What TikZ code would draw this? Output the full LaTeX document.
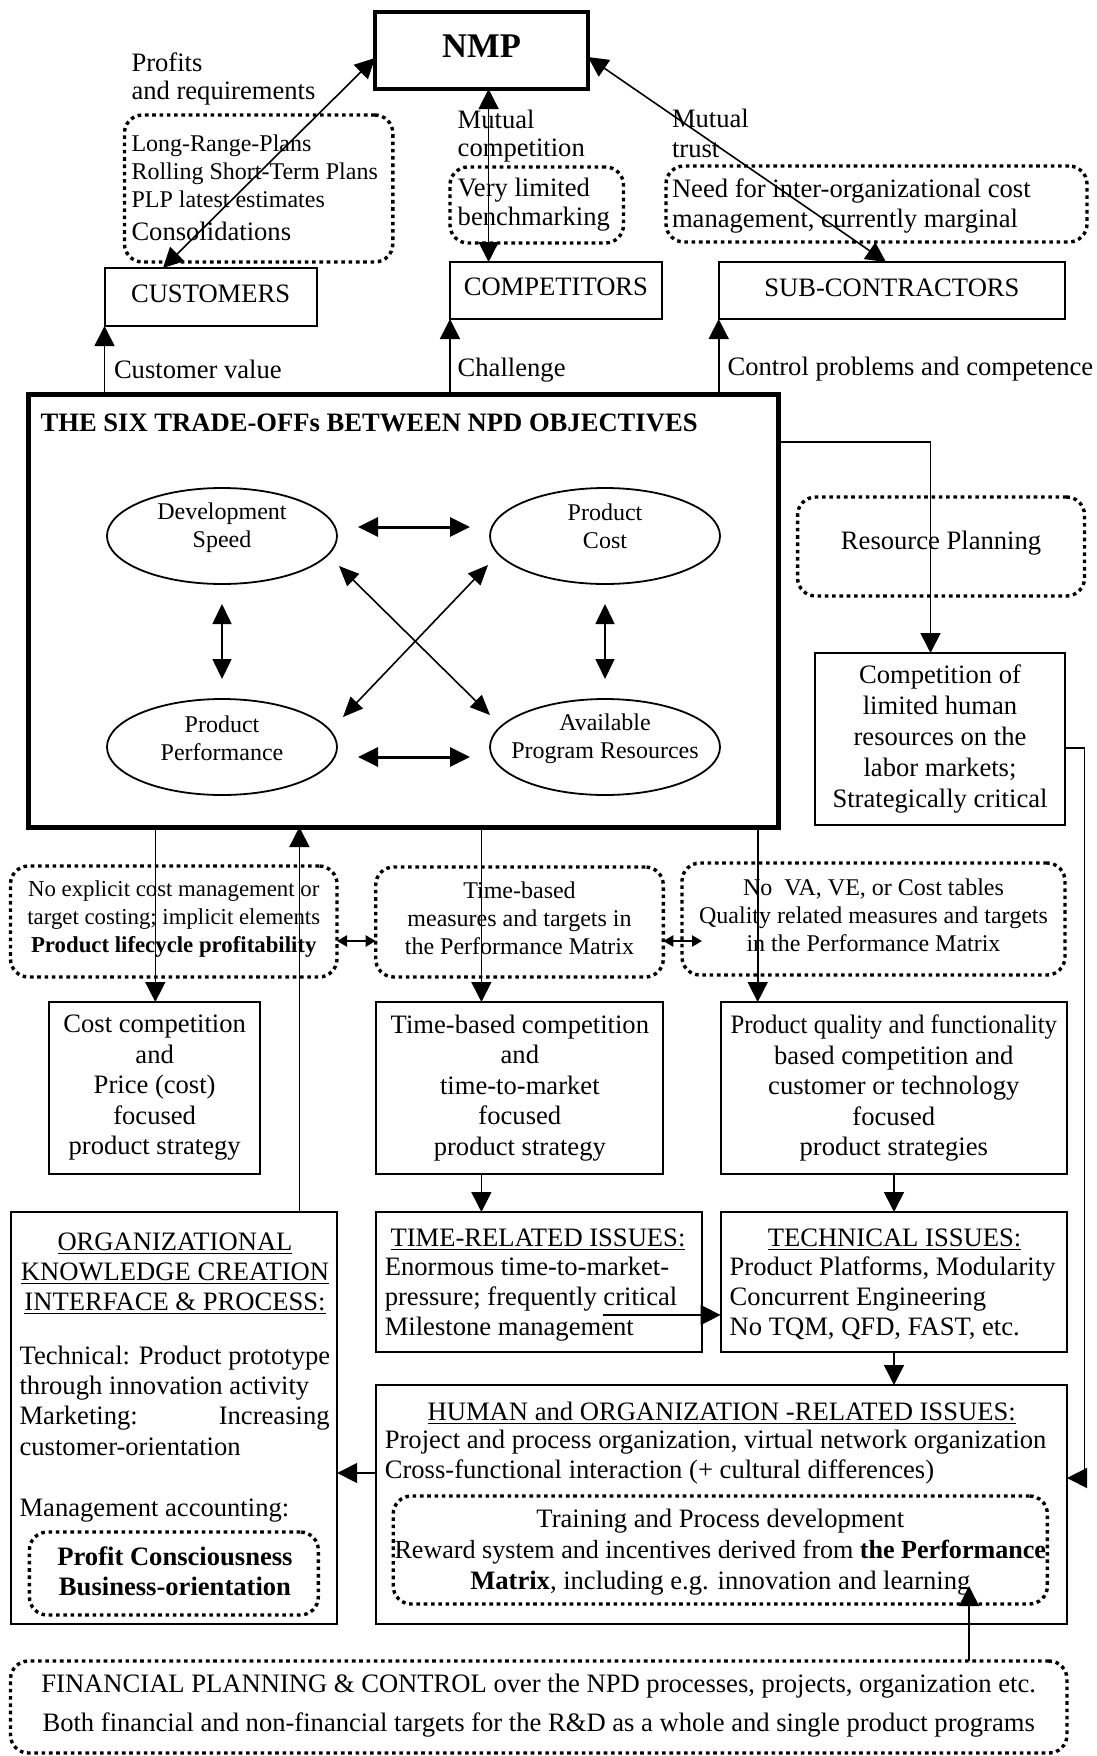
\documentclass[tikz,border=0pt]{standalone}
\usepackage{fontspec}
\setmainfont{Liberation Serif}
\usetikzlibrary{arrows.meta,shapes.geometric,fit}

\begin{document}
\begin{tikzpicture}[x=0.5pt,y=-0.5pt,
  every node/.style={inner sep=0pt, outer sep=0pt},
  f13/.style={font=\fontsize{13.3}{15.3}\selectfont},
  f12/.style={font=\fontsize{12}{14}\selectfont},
  box/.style={draw, line width=1pt},
  heavybox/.style={draw, line width=2pt},
  dotbox/.style={draw, line width=1.7pt, dash pattern=on 1.8pt off 1.85pt, rounded corners=9pt},
  oval/.style={draw, ellipse, line width=0.9pt, minimum width=115pt, minimum height=48pt},
  wire/.style={line width=0.8pt},
  head/.style={wire, -{Triangle[length=10pt,width=10pt]}},
  heads/.style={wire, {Triangle[length=10pt,width=10pt]}-{Triangle[length=10pt,width=10pt]}},
  ohz/.style={line width=1.5pt, {Triangle[length=10pt,width=9.5pt]}-{Triangle[length=10pt,width=9.5pt]}, shorten <=10.5pt, shorten >=10pt},
  ovt/.style={wire, {Triangle[length=10pt,width=9.5pt]}-{Triangle[length=10pt,width=9.5pt]}, shorten <=10pt, shorten >=10pt},
  odg/.style={wire, {Triangle[length=10pt,width=8.5pt]}-{Triangle[length=10pt,width=8.5pt]}},
  mini/.style={line width=1.2pt, {Triangle[length=5pt,width=5.5pt]}-{Triangle[length=5pt,width=5.5pt]}},
]
\useasboundingbox (0,0) rectangle (1097,1756);

% ---------------- top tier: NMP and its partners
\node[heavybox, fit={(375,12) (588,89)}] (nmp) {};
\node[anchor=base, font=\fontsize{17.3}{20}\selectfont\bfseries] (nmpt) at (481.5,57) {NMP};

\node[box, fit={(104.5,268) (316.7,326)}] (cust) {};
\node[f13, anchor=base] (custt) at (210.6,302) {CUSTOMERS};
\node[box, fit={(450,262) (661.8,319)}] (comp) {};
\node[f13, anchor=base] (compt) at (555.9,295) {COMPETITORS};
\node[box, fit={(718.7,262) (1065,319)}] (sub) {};
\node[f13, anchor=base] (subt) at (891.9,296) {SUB-CONTRACTORS};

\node[f13, anchor=base west] (prof1) at (131.5,71) {Profits};
\node[f13, anchor=base west] (prof2) at (131.5,99) {and requirements};
\node[dotbox, fit={(124.5,115) (392.8,262)}] (plans) {};
\node[f12, anchor=base west] (pl1) at (131.5,151) {Long-Range-Plans};
\node[f12, anchor=base west] (pl2) at (131.5,179) {Rolling Short-Term Plans};
\node[f12, anchor=base west] (pl3) at (131.5,207) {PLP latest estimates};
\node[f13, anchor=base west] (pl4) at (131.5,240) {Consolidations};

\node[f13, anchor=base west] (mc1) at (457.7,128) {Mutual};
\node[f13, anchor=base west] (mc2) at (457.7,156) {competition};
\node[dotbox, fit={(450,167) (623.5,243)}] (bench) {};
\node[f13, anchor=base west] (bm1) at (457.7,196) {Very limited};
\node[f13, anchor=base west] (bm2) at (457.7,225) {benchmarking};

\node[f13, anchor=base west] (mt1) at (672,127) {Mutual};
\node[f13, anchor=base west] (mt2) at (672,157) {trust};
\node[dotbox, fit={(666,166) (1087,242)}] (iocm) {};
\node[f13, anchor=base west] (io1) at (672,197) {Need for inter-organizational cost};
\node[f13, anchor=base west] (io2) at (672,227) {management, currently marginal};

\node[f13, anchor=base west] (lbcv) at (114,378) {Customer value};
\node[f13, anchor=base west] (lbch) at (457.7,376) {Challenge};
\node[f13, anchor=base west] (lbcp) at (727.6,375) {Control problems and competence};

\draw[heads] (nmp.west |- 0,58) -- (163,0 |- cust.north);
\draw[heads] (488.6,0 |- nmp.south) -- (488.6,0 |- comp.north);
\draw[heads] (nmp.east |- 0,57) -- (886,0 |- sub.north);

% ---------------- the six trade-offs
\node[draw, line width=2.5pt, fit={(28,394) (778,827)}] (six) {};
\node[anchor=base west, font=\fontsize{13.3}{15.3}\selectfont\bfseries] (sixt) at (40.6,431) {THE SIX TRADE-OFFs BETWEEN NPD OBJECTIVES};

\node[oval] (ds) at (222,536) {};
\node[oval] (pc) at (605,536) {};
\node[oval] (pp) at (222,747) {};
\node[oval] (apr) at (605,747) {};
\node[f12, align=center] (dst) at (222,528) {Development\\Speed};
\node[f12, align=center] (pct) at (605,526) {Product\\Cost};
\node[f12, align=center] (ppt) at (222,738) {Product\\Performance};
\node[f12, align=center] (aprt) at (605,739) {Available\\Program Resources};

\draw[ohz] ([yshift=4.5pt]ds.east) -- ([yshift=4.5pt]pc.west);
\draw[ohz] ([yshift=-5pt]pp.east) -- ([yshift=-5pt]apr.west);
\draw[ovt] (ds.south) -- (pp.north);
\draw[ovt] (pc.south) -- (apr.north);
\draw[odg] ([shift={(117,30)}]ds.center) -- ([shift={(-115,-32)}]apr.center);
\draw[odg] ([shift={(-117,29)}]pc.center) -- ([shift={(121,-30)}]pp.center);

\draw[head] (cust.south west |- six.north) -- (cust.south west);
\draw[head] (comp.south west |- six.north) -- (comp.south west);
\draw[head] (sub.south west |- six.north) -- (sub.south west);

% ---------------- resources branch
\node[dotbox, fit={(797.6,497) (1084.5,596)}] (resp) {};
\node[f13] (respt) at ([yshift=1.75pt]resp.center) {Resource Planning};
\node[box, fit={(815,653) (1065,825)}] (compet) {};
\node[align=center, font=\fontsize{13.3}{15.5}\selectfont] (compett) at (compet.center)
  {Competition of\\limited human\\resources on the\\labor markets;\\Strategically critical};
\draw[head] (six.east |- 0,442) -| (compet.north -| 930.5,0);

% ---------------- measures row
\node[dotbox, fit={(10.5,866) (337,977)}] (pd1) {};
\node[dotbox, fit={(375.7,867) (663.3,977)}] (pd2) {};
\node[dotbox, fit={(682,863) (1065,975)}] (pd3) {};
\node[align=center, font=\fontsize{11.4}{14.2}\selectfont] (pd1t) at ([yshift=1.25pt]pd1.center)
  {No explicit cost management or\\target costing; implicit elements\\\textbf{Product lifecycle profitability}};
\node[align=center, f12] (pd2t) at ([yshift=2pt]pd2.center)
  {Time-based\\measures and targets in\\the Performance Matrix};
\node[align=center, f12] (pd3t) at ([yshift=2pt]pd3.center)
  {No\ \ VA, VE, or Cost tables\\Quality related measures and targets\\in the Performance Matrix};
\coordinate (pj) at (702,941);
\draw[mini] (pd1.east |- 0,941) -- (pd2.west |- 0,941);
\draw[mini] (pd2.east |- 0,941) -- (pj);

% ---------------- strategy row
\node[box, fit={(49,1002) (260.3,1174)}] (costb) {};
\node[box, fit={(376.4,1002) (663.3,1174)}] (timeb) {};
\node[box, fit={(720.6,1002) (1067,1174)}] (qualb) {};
\node[align=center, font=\fontsize{13.3}{15.25}\selectfont] (costbt) at (costb.center)
  {Cost competition\\and\\Price (cost)\\focused\\product strategy};
\node[align=center, font=\fontsize{13.3}{15.25}\selectfont] (timebt) at (timeb.center)
  {Time-based competition\\and\\time-to-market\\focused\\product strategy};
\node[align=center, font=\fontsize{13.3}{15.25}\selectfont] (qualbt) at (qualb.center)
  {\scalebox{0.93}[1]{Product quality and functionality}\\based competition and\\customer or technology\\focused\\product strategies};

\draw[head] (155.3,0 |- six.south) -- (155.3,0 |- costb.north);
\draw[head] (481.4,0 |- six.south) -- (481.4,0 |- timeb.north);
\draw[head] (757.7,0 |- six.south) -- (757.7,0 |- qualb.north);

% ---------------- issues
\node[box, fit={(376.4,1212) (701.7,1352)}] (timer) {};
\node[f13, anchor=base] (timert) at (538,1246) {\underline{TIME-RELATED ISSUES:}};
\node[f13, anchor=base west] (tr1) at (384.8,1275) {Enormous time-to-market-};
\node[f13, anchor=base west] (tr2) at (384.8,1305) {pressure; frequently critical};
\node[f13, anchor=base west] (tr3) at (384.8,1335) {Milestone management};

\node[box, fit={(720.6,1212) (1067,1352)}] (tech) {};
\node[f13, anchor=base] (techt) at (894.5,1246) {\underline{TECHNICAL ISSUES:}};
\node[f13, anchor=base west] (te1) at (729.7,1275) {Product Platforms, Modularity};
\node[f13, anchor=base west] (te2) at (729.7,1305) {Concurrent Engineering};
\node[f13, anchor=base west] (te3) at (729.7,1335) {No TQM, QFD, FAST, etc.};

\node[box, fit={(376.4,1385) (1067,1624)}] (human) {};
\node[f13, anchor=base] (humant) at (721.7,1420) {\underline{HUMAN and ORGANIZATION -RELATED ISSUES:}};
\node[f13, anchor=base west] (hu1) at (384.8,1448) {Project and process organization, virtual network organization};
\node[f13, anchor=base west] (hu2) at (384.8,1478) {Cross-functional interaction (+ cultural differences)};
\node[dotbox, fit={(393.2,1496) (1047.4,1604)}] (train) {};
\node[f13, anchor=base] (tp1) at (720.3,1527) {Training and Process development};
\node[anchor=base, font=\fontsize{13.05}{15}\selectfont] (tp2) at (720.3,1558) {Reward system and incentives derived from \textbf{the Performance}};
\node[f13, anchor=base] (tp3) at (720.3,1589) {\textbf{Matrix}, including e.g. innovation and learning};

\node[box, fit={(10.5,1212) (337.2,1624)}] (org) {};
\node[f13, anchor=base] (og1) at (175,1250) {\underline{ORGANIZATIONAL}};
\node[f13, anchor=base] (og2) at (175,1280) {\underline{KNOWLEDGE CREATION}};
\node[f13, anchor=base] (og3) at (175,1310) {\underline{INTERFACE \& PROCESS:}};
\node[f13, anchor=base west] (ob1) at (19.6,1364) {Technical: Product prototype};
\node[f13, anchor=base west] (ob2) at (19.6,1394) {through innovation activity};
\node[f13, anchor=base west] (ob3) at (19.6,1424) {\makebox[155pt][s]{Marketing: Increasing}};
\node[f13, anchor=base west] (ob4) at (19.6,1455) {customer-orientation};
\node[f13, anchor=base west] (ob5) at (19.6,1516) {Management accounting:};
\node[dotbox, fit={(29.4,1532) (318.3,1615)}] (profit) {};
\node[anchor=base, font=\fontsize{13.3}{15.3}\selectfont\bfseries] (pf1) at (175,1565) {Profit Consciousness};
\node[anchor=base, font=\fontsize{13.3}{15.3}\selectfont\bfseries] (pf2) at (175,1595) {Business-orientation};

\node[dotbox, fit={(10.5,1661) (1067,1753)}] (fin) {};
\node[f13, anchor=base] (fi1) at (538.7,1692) {FINANCIAL PLANNING \& CONTROL over the NPD processes, projects, organization etc.};
\node[f13, anchor=base] (fi2) at (538.7,1731) {Both financial and non-financial targets for the R\&D as a whole and single product programs};

% ---------------- issue connectors
\draw[head] (299.4,0 |- org.north) -- (299.4,0 |- six.south);
\draw[head] (481.4,0 |- timeb.south) -- (481.4,0 |- timer.north);
\draw[head] (894,0 |- qualb.south) -- (894,0 |- tech.north);
\draw[head] (894,0 |- tech.south) -- (894,0 |- human.north);
\coordinate (tmark) at (603,1315);
\draw[head] (tmark) -- (tmark -| tech.west);
\draw[head] (human.west |- 0,1473) -- (org.east |- 0,1473);
\draw[head] (compet.east |- 0,748) -| (1084.5,1478) -- (human.east |- 0,1478);
\coordinate (rtip) at (969,1586);
\draw[head] (969,0 |- fin.north) -- (rtip);

\end{tikzpicture}
\end{document}
